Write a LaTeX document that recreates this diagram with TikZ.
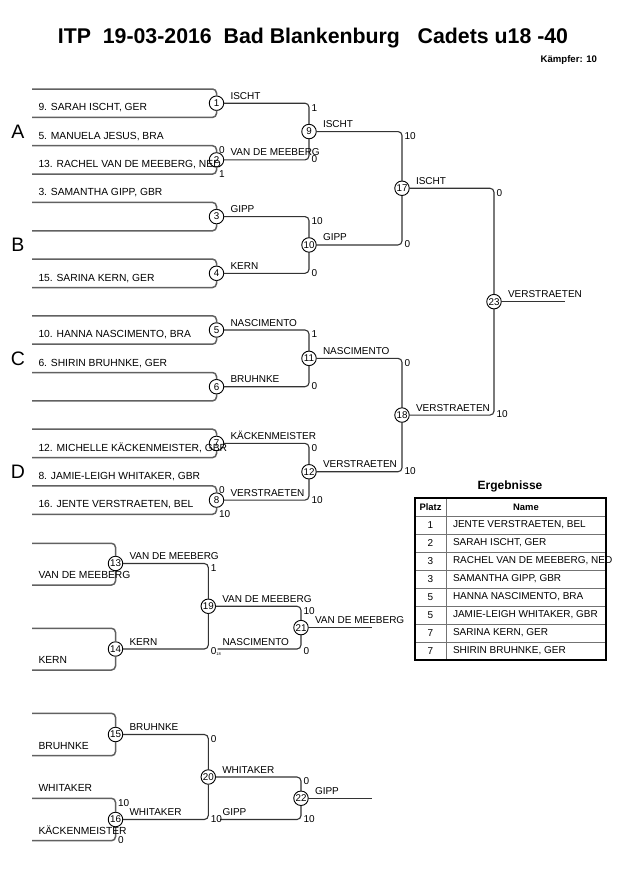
\documentclass[tikz,border=0pt]{standalone}
\usepackage{fontspec}
\setmainfont{Liberation Sans}
\begin{document}
\begin{tikzpicture}[x=1pt,y=-1pt,
  every node/.style={inner sep=0pt, outer sep=0pt},
  sf/.style={font=\fontsize{10}{11}\selectfont},
  nf/.style={font=\fontsize{10.3}{11}\selectfont},
  mc/.style={circle, draw=black, line width=0.9pt, fill=white, minimum size=14.5pt, inner sep=0pt, font=\fontsize{9.8}{10}\selectfont},
  inl/.style={draw=black!62, line width=1.5pt, rounded corners=4pt},
  wl/.style={draw=black!80, line width=1.1pt, rounded corners=4pt},
  nm/.style={nf, anchor=base west},
  wn/.style={sf, anchor=base west},
  scu/.style={sf, anchor=west, xshift=2.5pt, yshift=-4.5pt},
  scl/.style={sf, anchor=west, xshift=2.5pt, yshift=0.5pt},
  grp/.style={font=\fontsize{19.5}{20}\selectfont},
  thd/.style={font=\bfseries\fontsize{9.4}{10}\selectfont},
  tcell/.style={font=\fontsize{10}{11}\selectfont},
]
\useasboundingbox (0,0) rectangle (630,891);

% title
\node[font=\bfseries\fontsize{21.3}{24}\selectfont] (title) at (313,38) {ITP\hspace{0.556em}19-03-2016\hspace{0.556em}Bad Blankenburg\hspace{0.834em}Cadets u18 -40};
\node[font=\bfseries\fontsize{9.6}{10}\selectfont, anchor=east] (kaempfer) at (597,60) {Kämpfer: 10};

% group letters
\node[grp] (gA) at (18,131.55) {A};
\node[grp] (gB) at (18,244.95) {B};
\node[grp] (gC) at (18,358.35) {C};
\node[grp] (gD) at (18,471.75) {D};

% match circles
\node[mc] (m1) at (216.5,103.2) {1};
\node[mc] (m2) at (216.5,159.9) {2};
\node[mc] (m3) at (216.5,216.6) {3};
\node[mc] (m4) at (216.5,273.3) {4};
\node[mc] (m5) at (216.5,330.0) {5};
\node[mc] (m6) at (216.5,386.7) {6};
\node[mc] (m7) at (216.5,443.4) {7};
\node[mc] (m8) at (216.5,500.1) {8};
\node[mc] (m9) at (309,131.55) {9};
\node[mc] (m10) at (309,244.95) {10};
\node[mc] (m11) at (309,358.35) {11};
\node[mc] (m12) at (309,471.75) {12};
\node[mc] (m17) at (402,188.25) {17};
\node[mc] (m18) at (402,415.05) {18};
\node[mc] (m23) at (494,301.65) {23};
\node[mc] (m13) at (115.5,563.5) {13};
\node[mc] (m14) at (115.5,649) {14};
\node[mc] (m19) at (208.3,606.25) {19};
\node[mc] (m21) at (301,627.6) {21};
\node[mc] (m15) at (115.5,734.5) {15};
\node[mc] (m16) at (115.5,819.5) {16};
\node[mc] (m20) at (208.3,777) {20};
\node[mc] (m22) at (301,798.25) {22};

% entry line starts
\foreach \i/\y in {0/89.0,1/117.4,2/145.7,3/174.1,4/202.4,5/230.8,6/259.1,7/287.5,8/315.8,9/344.2,10/372.5,11/400.9,12/429.2,13/457.6,14/485.9,15/514.3}
  \coordinate (s\i) at (32,\y);
\coordinate (r13a) at (32,543.3);
\coordinate (r13b) at (32,585);
\coordinate (r14a) at (32,628.3);
\coordinate (r14b) at (32,670);
\coordinate (r15a) at (32,713.3);
\coordinate (r15b) at (32,755.7);
\coordinate (r16a) at (32,798.3);
\coordinate (r16b) at (32,840.7);
\coordinate (lo18) at (217.5,649);
\coordinate (lo17) at (220,819.5);
\coordinate (o23) at (565,301.65);
\coordinate (o21) at (372,627.6);
\coordinate (o22) at (372,798.25);

% entry lines
\draw[inl] (s0) -| (m1);  \draw[inl] (s1) -| (m1);
\draw[inl] (s2) -| (m2);  \draw[inl] (s3) -| (m2);
\draw[inl] (s4) -| (m3);  \draw[inl] (s5) -| (m3);
\draw[inl] (s6) -| (m4);  \draw[inl] (s7) -| (m4);
\draw[inl] (s8) -| (m5);  \draw[inl] (s9) -| (m5);
\draw[inl] (s10) -| (m6); \draw[inl] (s11) -| (m6);
\draw[inl] (s12) -| (m7); \draw[inl] (s13) -| (m7);
\draw[inl] (s14) -| (m8); \draw[inl] (s15) -| (m8);
\draw[inl] (r13a) -| (m13); \draw[inl] (r13b) -| (m13);
\draw[inl] (r14a) -| (m14); \draw[inl] (r14b) -| (m14);
\draw[inl] (r15a) -| (m15); \draw[inl] (r15b) -| (m15);
\draw[inl] (r16a) -| (m16); \draw[inl] (r16b) -| (m16);

% winner lines
\draw[wl] (m1) -| (m9);   \draw[wl] (m2) -| (m9);
\draw[wl] (m3) -| (m10);  \draw[wl] (m4) -| (m10);
\draw[wl] (m5) -| (m11);  \draw[wl] (m6) -| (m11);
\draw[wl] (m7) -| (m12);  \draw[wl] (m8) -| (m12);
\draw[wl] (m9) -| (m17);  \draw[wl] (m10) -| (m17);
\draw[wl] (m11) -| (m18); \draw[wl] (m12) -| (m18);
\draw[wl] (m17) -| (m23); \draw[wl] (m18) -| (m23);
\draw[wl] (m23) -- (o23);
\draw[wl] (m13) -| (m19); \draw[wl] (m14) -| (m19);
\draw[wl] (m19) -| (m21); \draw[wl] (lo18) -| (m21);
\draw[wl] (m21) -- (o21);
\draw[wl] (m15) -| (m20); \draw[wl] (m16) -| (m20);
\draw[wl] (m20) -| (m22); \draw[wl] (lo17) -| (m22);
\draw[wl] (m22) -- (o22);

% competitor names
\node[nm] (t1) at (38.5,110.9) {9. SARAH ISCHT, GER};
\node[nm] (t2) at (38.5,139.2) {5. MANUELA JESUS, BRA};
\node[nm] (t3) at (38.5,167.6) {13. RACHEL VAN DE MEEBERG, NED};
\node[nm] (t4) at (38.5,195.9) {3. SAMANTHA GIPP, GBR};
\node[nm] (t7) at (38.5,281.0) {15. SARINA KERN, GER};
\node[nm] (t9) at (38.5,337.7) {10. HANNA NASCIMENTO, BRA};
\node[nm] (t10) at (38.5,366.0) {6. SHIRIN BRUHNKE, GER};
\node[nm] (t13) at (38.5,451.1) {12. MICHELLE KÄCKENMEISTER, GBR};
\node[nm] (t14) at (38.5,479.4) {8. JAMIE-LEIGH WHITAKER, GBR};
\node[nm] (t15) at (38.5,507.8) {16. JENTE VERSTRAETEN, BEL};
\node[nm] (tr13) at (38.5,578.5) {VAN DE MEEBERG};
\node[nm] (tr14) at (38.5,663.5) {KERN};
\node[nm] (tr15) at (38.5,749.2) {BRUHNKE};
\node[nm] (tr16a) at (38.5,791.8) {WHITAKER};
\node[nm] (tr16b) at (38.5,834.2) {KÄCKENMEISTER};

% winner labels
\node[wn] (w1) at (230.5,99.2) {ISCHT};
\node[wn] (w2) at (230.5,155.9) {VAN DE MEEBERG};
\node[wn] (w3) at (230.5,212.6) {GIPP};
\node[wn] (w4) at (230.5,269.3) {KERN};
\node[wn] (w5) at (230.5,326.0) {NASCIMENTO};
\node[wn] (w6) at (230.5,382.7) {BRUHNKE};
\node[wn] (w7) at (230.5,439.4) {KÄCKENMEISTER};
\node[wn] (w8) at (230.5,496.1) {VERSTRAETEN};
\node[wn] (w9) at (323,127.55) {ISCHT};
\node[wn] (w10) at (323,240.95) {GIPP};
\node[wn] (w11) at (323,354.35) {NASCIMENTO};
\node[wn] (w12) at (323,467.75) {VERSTRAETEN};
\node[wn] (w17) at (416,184.25) {ISCHT};
\node[wn] (w18) at (416,411.05) {VERSTRAETEN};
\node[wn] (w23) at (508,297.65) {VERSTRAETEN};
\node[wn] (w13) at (129.5,559.5) {VAN DE MEEBERG};
\node[wn] (w14) at (129.5,645) {KERN};
\node[wn] (w19) at (222.3,602.25) {VAN DE MEEBERG};
\node[wn] (wl18) at (222.5,645) {NASCIMENTO};
\node[wn] (w21) at (315,623.6) {VAN DE MEEBERG};
\node[wn] (w15) at (129.5,730.5) {BRUHNKE};
\node[wn] (w16) at (129.5,815.5) {WHITAKER};
\node[wn] (w20) at (222.3,773) {WHITAKER};
\node[wn] (wl17) at (222.5,815.5) {GIPP};
\node[wn] (w22) at (315,794.25) {GIPP};

% scores
\node[scu] (c2a) at (216.5,145.7) {0};  \node[scl] (c2b) at (216.5,174.1) {1};
\node[scu] (c8a) at (216.5,485.9) {0};  \node[scl] (c8b) at (216.5,514.3) {10};
\node[scu] (c9a) at (309,103.2) {1};    \node[scl] (c9b) at (309,159.9) {0};
\node[scu] (c10a) at (309,216.6) {10};  \node[scl] (c10b) at (309,273.3) {0};
\node[scu] (c11a) at (309,330.0) {1};   \node[scl] (c11b) at (309,386.7) {0};
\node[scu] (c12a) at (309,443.4) {0};   \node[scl] (c12b) at (309,500.1) {10};
\node[scu] (c17a) at (402,131.55) {10}; \node[scl] (c17b) at (402,244.95) {0};
\node[scu] (c18a) at (402,358.35) {0};  \node[scl] (c18b) at (402,471.75) {10};
\node[scu] (c23a) at (494,188.25) {0};  \node[scl] (c23b) at (494,415.05) {10};
\node[scu] (c19a) at (208.3,563.5) {1};
\node[scl, yshift=-3pt] (c19b) at (208.3,649) {0\raisebox{-1pt}{\fontsize{4}{4}\selectfont 18}};
\node[scu] (c21a) at (301,606.25) {10}; \node[scl, yshift=-3pt] (c21b) at (301,649) {0};
\node[scu] (c16a) at (115.5,798.3) {10}; \node[scl] (c16b) at (115.5,840.7) {0};
\node[scu] (c20a) at (208.3,734.5) {0}; \node[scl] (c20b) at (208.3,819.5) {10};
\node[scu] (c22a) at (301,777) {0};     \node[scl] (c22b) at (301,819.5) {10};

% results table
\node[font=\bfseries\fontsize{12}{13}\selectfont] (erg) at (510,486.5) {Ergebnisse};
\foreach \k in {0,...,7} \draw[black!55, line width=0.8pt] (415,516+18*\k) -- (606,516+18*\k);
\draw[black!55, line width=0.8pt] (446,498) -- (446,660);
\draw[black, line width=1.8pt] (415,498) rectangle (606,660);
\node[thd] (hp) at (430.5,507) {Platz};
\node[thd] (hn) at (526,507) {Name};
\foreach \k/\p/\n in {0/1/{JENTE VERSTRAETEN, BEL},1/2/{SARAH ISCHT, GER},2/3/{RACHEL VAN DE MEEBERG, NED},3/3/{SAMANTHA GIPP, GBR},4/5/{HANNA NASCIMENTO, BRA},5/5/{JAMIE-LEIGH WHITAKER, GBR},6/7/{SARINA KERN, GER},7/7/{SHIRIN BRUHNKE, GER}}{
  \node[tcell] (p\k) at (430.5,525+18*\k) {\p};
  \node[tcell, anchor=west] (n\k) at (453,525+18*\k) {\n};
}
\end{tikzpicture}
\end{document}
